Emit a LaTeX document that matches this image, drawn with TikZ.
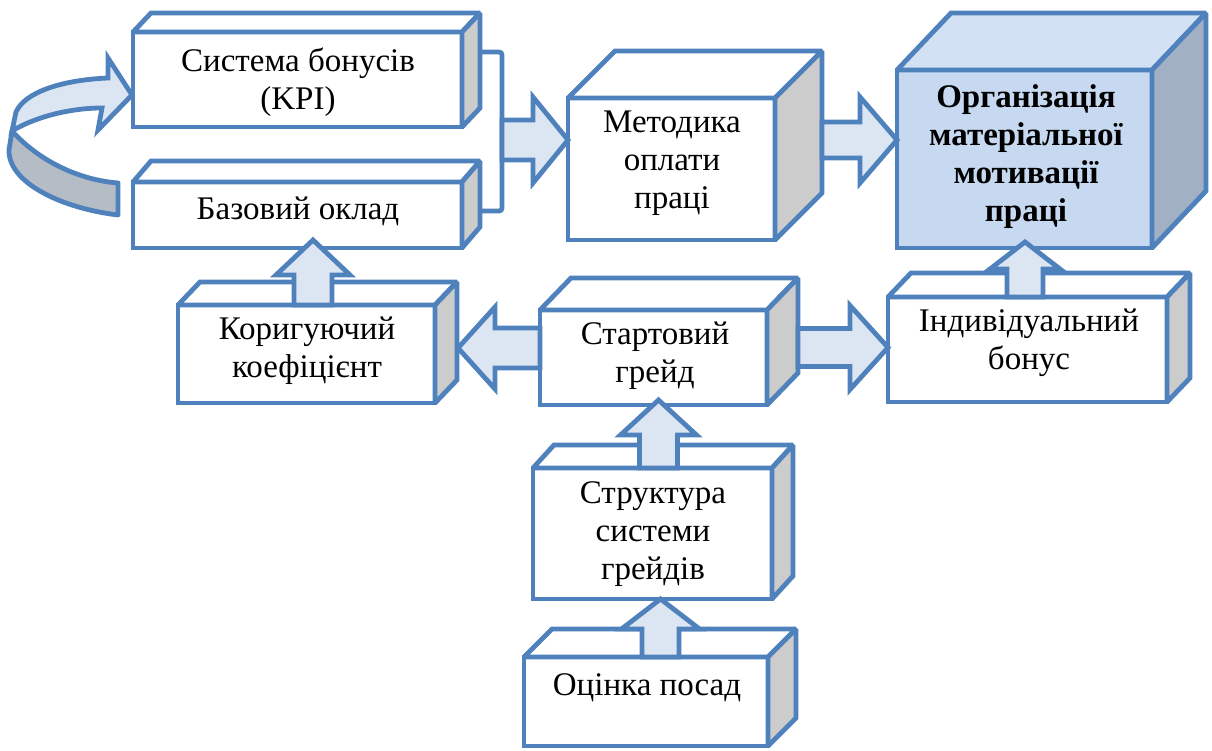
\documentclass[tikz,border=0pt]{standalone}
\usepackage{fontspec}
\setmainfont{Liberation Serif}
\usetikzlibrary{calc}

\definecolor{edge}{RGB}{79,129,189}
\definecolor{arrowfill}{RGB}{220,230,242}
\definecolor{sidegrey}{RGB}{204,204,204}
\definecolor{orgfront}{RGB}{198,217,240}
\definecolor{orgtop}{RGB}{210,225,243}
\definecolor{orgside}{RGB}{161,176,195}
\definecolor{loopgrey}{RGB}{180,188,198}

\tikzset{
  face/.style={draw=edge, line width=4.8, fill=white, rectangle, outer sep=0, inner sep=0},
  lid/.style={draw=edge, line width=4.8, fill=white, line join=miter, miter limit=1.5},
  flank/.style={draw=edge, line width=4.8, fill=sidegrey, line join=miter, miter limit=1.5},
  orgface/.style={face, fill=orgfront},
  orglid/.style={lid, fill=orgtop},
  orgflank/.style={flank, fill=orgside},
  txt/.style={align=center, font=\fontsize{33}{38}\selectfont, inner sep=0},
  barrow/.style={draw=edge, line width=4.8, fill=arrowfill, line join=miter},
  loopband/.style={draw=edge, line width=4.8, line join=round},
}

% box with a front face (named node), a top lid and a right flank
% #1 name, #2..#5 front face x1,y1,x2,y2, #6 depth dx, #7 depth dy, #8 style prefix
\newcommand\cubebox[8]{%
  \node[#8face, minimum width={#4-#2}, minimum height={#5-#3}] (#1) at ({(#2+#4)/2},{(#3+#5)/2}) {};
  \draw[#8lid] (#1.north west) -- ++(#6,-#7) -- ([shift={(#6,-#7)}]#1.north east) -- (#1.north east) -- cycle;
  \draw[#8flank] (#1.north east) -- ++(#6,-#7) -- ([shift={(#6,-#7)}]#1.south east) -- (#1.south east) -- cycle;
}

% horizontal block arrow: #1 start, #2 tip, #3 half body, #4 half head, #5 head length (negative = pointing left)
\newcommand\harrow[5]{%
  \draw[barrow] let \p1=(#1), \p2=(#2) in
    (\x1,\y2+#3pt) -- ({\x2-(#5pt)},\y2+#3pt) -- ({\x2-(#5pt)},\y2+#4pt) -- (\x2,\y2)
    -- ({\x2-(#5pt)},\y2-#4pt) -- ({\x2-(#5pt)},\y2-#3pt) -- (\x1,\y2-#3pt) -- cycle;
}
% upward block arrow: #1 start, #2 tip, #3 half body, #4 half head, #5 head length
\newcommand\varrow[5]{%
  \draw[barrow] let \p1=(#1), \p2=(#2) in
    (\x2-#3pt,\y1) -- (\x2-#3pt,\y2-#5pt) -- (\x2-#4pt,\y2-#5pt) -- (\x2,\y2)
    -- (\x2+#4pt,\y2-#5pt) -- (\x2+#3pt,\y2-#5pt) -- (\x2+#3pt,\y1) -- cycle;
}

\begin{document}
\begin{tikzpicture}[x=1pt, y=-1pt]
\useasboundingbox (0,0) rectangle (1212,751);

% boxes
\cubebox{bonus}{133}{32}{462}{127}{18}{19}{}
\cubebox{base}{133}{182}{462}{248}{18}{21}{}
\cubebox{method}{568}{98}{775}{240}{47}{47}{}
\cubebox{org}{897}{70}{1152}{248}{54}{57}{org}
\cubebox{coef}{178}{305}{435}{403}{22}{23}{}
\cubebox{start}{540}{310}{767}{405}{31}{32}{}
\cubebox{indiv}{888}{297}{1167}{402}{23}{24}{}
\cubebox{struct}{533}{468}{772}{599}{21}{23}{}
\cubebox{eval}{524}{657}{768}{746}{28}{28}{}

% labels
\node[txt] (bonusT) at (298,82) {Система бонусів\\(KPI)};
\node[txt] (baseT) at (298,211) {Базовий оклад};
\node[txt] (methodT) at (672,163) {Методика\\оплати\\праці};
\node[txt, font=\fontsize{33}{38}\selectfont\bfseries] (orgT) at (1026,157) {Організація\\матеріальної\\мотивації\\праці};
\node[txt] (coefT) at (307,351) {Коригуючий\\коефіцієнт};
\node[txt] (startT) at (655,356) {Стартовий\\грейд};
\node[txt] (indivT) at (1029,343) {Індивідуальний\\бонус};
\node[txt] (structT) at (653,534) {Структура\\системи\\грейдів};
\node[txt] (evalT) at (647,688) {Оцінка посад};

% bracket joining the two salary parts
\coordinate (brTop) at ($(bonus.north east)+(18,20)$);
\coordinate (brBot) at ($(base.north east)+(18,29)$);
\draw[draw=edge, line width=4.8, rounded corners=3] (brTop) -- ++(22,0) |- (brBot);

% connector points
\coordinate (brOut) at ($(brTop)+(22,88)$);
\coordinate (mIn) at ($(method.north west)+(0,42)$);
\coordinate (mOut) at ($(method.north east)+(47,42)$);
\coordinate (oIn) at ($(org.north west)+(0,70)$);
\coordinate (kIn) at ($(coef.north east)+(23,43)$);
\coordinate (sOut) at ($(start.north east)+(31,0)$);
\coordinate (iIn) at ($(indiv.west)+(0,-2)$);
\coordinate (bIn) at ($(base.south west)+(180,-8)$);
\coordinate (oBot) at ($(org.south west)+(128,-6)$);
\coordinate (sBot) at ($(start.south)+(5,-5)$);
\coordinate (tBot) at ($(struct.south)+(8,0)$);

% block arrows
\harrow{brOut}{mIn}{20}{43}{35}
\harrow{mOut}{oIn}{18}{43}{37}
\harrow{start.west}{kIn}{20}{41}{-37}
\harrow{sOut}{iIn}{19}{42}{38}
\varrow{coef.north}{bIn}{19}{37}{35}
\varrow{indiv.north}{oBot}{18}{35}{27}
\varrow{struct.north}{sBot}{19}{38}{35}
\varrow{eval.north}{tBot}{18.5}{39}{30}

% looping ribbon arrow around the salary parts
\draw[loopband, fill=loopgrey] (12,131) .. controls (40,162) and (80,180) .. (118,183)
  -- (118,215) .. controls (60,208) and (8,182) .. (9,150) -- cycle;
\draw[loopband, fill=arrowfill, line join=miter] (108,78) .. controls (62,80) and (25,92) .. (16,112)
  -- (12,131) .. controls (35,117) and (70,108) .. (102,108)
  -- (98,130) -- (132,95) -- (108,58) -- cycle;
\end{tikzpicture}
\end{document}
